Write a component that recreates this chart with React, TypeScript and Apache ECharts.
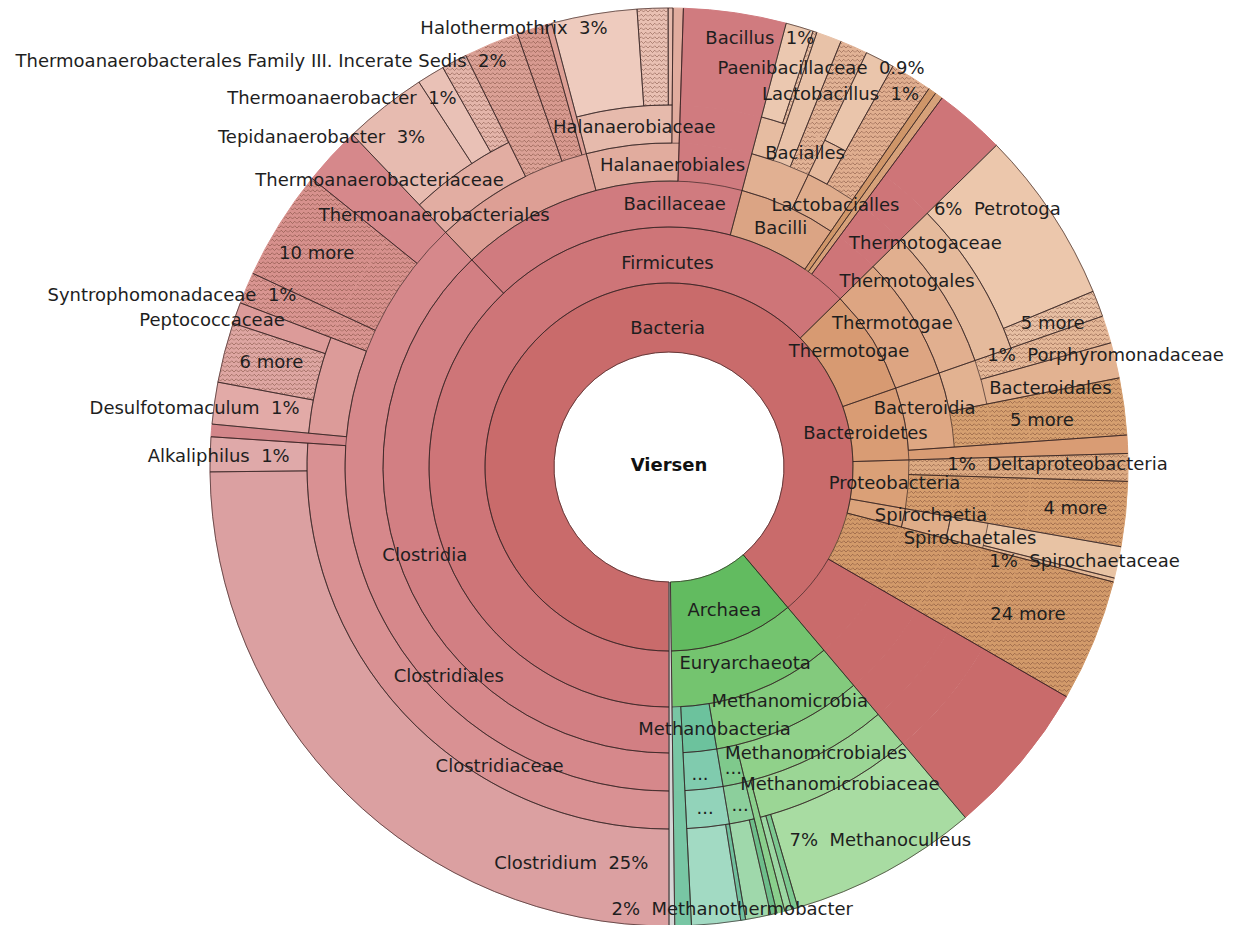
import { useEffect, useRef } from "react";
import * as echarts from "echarts";

type Row = [string, string, number]; // id, parent id, share of all reads (%)

const ROOT = "Viersen";
const TOTAL = 100;

const DOMAINS: Row[] = [
  ["Bacteria", ROOT, 88.83],
  ["Archaea", ROOT, 10.97],
];
const PHYLA: Row[] = [
  ["Firmicutes", "Bacteria", 62.64],
  ["Thermotogae", "Bacteria", 7.03],
  ["Bacteroidetes", "Bacteria", 4.86],
  ["Proteobacteria", "Bacteria", 3.25],
  ["Spirochaetes", "Bacteria", 1.25],
  ["24 more", "Bacteria", 4.31],
  ["Euryarchaeota", "Archaea", 10.97],
];
const CLASSES: Row[] = [
  ["Clostridia", "Firmicutes", 37.89],
  ["Bacillaceae#c", "Firmicutes", 16.22],
  ["Bacilli", "Firmicutes", 5.47],
  ["other#c1", "Firmicutes", 0.28],
  ["other#c2", "Firmicutes", 0.28],
  ["Thermotogae#c", "Thermotogae", 7.03],
  ["Bacteroidia", "Bacteroidetes", 4.22],
  ["Deltaproteobacteria", "Proteobacteria", 0.97],
  ["4 more", "Proteobacteria", 2.28],
  ["Spirochaetia", "Spirochaetes", 1.25],
  ["Methanomicrobia", "Euryarchaeota", 8.5],
  ["Methanobacteria", "Euryarchaeota", 1.89],
  ["other#c3", "Euryarchaeota", 0.58],
];
const ORDERS: Row[] = [
  ["Clostridiales", "Clostridia", 37.89],
  ["Thermoanaerobacteriales", "Bacillaceae#c", 8.0],
  ["Halanaerobiales", "Bacillaceae#c", 4.61],
  ["Bacialles", "Bacilli", 2.97],
  ["Lactobacialles", "Bacilli", 2.5],
  ["Thermotogales", "Thermotogae#c", 7.03],
  ["Bacteroidales", "Bacteroidia", 2.22],
  ["5 more#b", "Bacteroidia", 2.0],
  ["Spirochaetales", "Spirochaetia", 1.25],
  ["Methanomicrobiales", "Methanomicrobia", 7.39],
  ["...#1", "Methanomicrobia", 1.11],
  ["...#3", "Methanobacteria", 1.89],
];
const FAMILIES: Row[] = [
  ["Clostridiaceae", "Clostridiales", 26.05],
  ["other#f1", "Clostridiales", 0.44],
  ["Peptococcaceae", "Clostridiales", 4.33],
  ["Syntrophomonadaceae", "Clostridiales", 1.11],
  ["10 more", "Clostridiales", 3.89],
  ["Thermoanaerobacteriaceae", "Thermoanaerobacteriales", 4.81],
  ["Thermoanaerobacterales Family III. Incerate Sedis", "Thermoanaerobacteriales", 1.94],
  ["more#f2", "Thermoanaerobacteriales", 1.03],
  ["Halanaerobiaceae", "Halanaerobiales", 4.25],
  ["Bacillaceae#f", "Bacialles", 1.11],
  ["Paenibacillaceae", "Bacialles", 0.89],
  ["more#f3", "Bacialles", 0.97],
  ["Lactobacillaceae", "Lactobacialles", 1.03],
  ["more#f4", "Lactobacialles", 1.47],
  ["Thermotogaceae", "Thermotogales", 7.03],
  ["Porphyromonadaceae", "Bacteroidales", 0.97],
  ["Spirochaetaceae", "Spirochaetales", 1.11],
  ["Methanomicrobiaceae", "Methanomicrobiales", 7.11],
  ["other#f5", "Methanomicrobiales", 0.28],
  ["...#2", "...#1", 1.11],
  ["...#4", "...#3", 1.89],
];
const GENERA: Row[] = [
  ["Clostridium", "Clostridiaceae", 24.83],
  ["Alkaliphilus", "Clostridiaceae", 1.22],
  ["Desulfotomaculum", "Peptococcaceae", 1.47],
  ["6 more", "Peptococcaceae", 2.11],
  ["Tepidanaerobacter", "Thermoanaerobacteriaceae", 2.94],
  ["Thermoanaerobacter", "Thermoanaerobacteriaceae", 0.97],
  ["more#g1", "Thermoanaerobacteriaceae", 0.9],
  ["Halothermothrix", "Halanaerobiaceae", 3.0],
  ["more#g2", "Halanaerobiaceae", 1.08],
  ["Bacillus", "Bacillaceae#f", 0.97],
  ["more#g3", "Bacillaceae#f", 0.14],
  ["Lactobacillus", "Lactobacillaceae", 1.03],
  ["Petrotoga", "Thermotogaceae", 6.11],
  ["5 more#t", "Thermotogaceae", 0.92],
  ["Methanoculleus", "Methanomicrobiaceae", 6.64],
  ["other#g4", "Methanomicrobiaceae", 0.22],
  ["other#g5", "Methanomicrobiaceae", 0.25],
  ["other#g6", "...#2", 0.22],
  ["other#g7", "...#2", 0.89],
  ["other#g8", "...#4", 0.17],
  ["Methanothermobacter", "...#4", 1.72],
];

// ---- styles (kept apart from the data) ----
const COLORS: Record<string, string> = {
  Viersen: "#ffffff",
  Bacteria: "#c96b6b", Archaea: "#62bb60",
  Firmicutes: "#ce7578", Thermotogae: "#d79a72", Bacteroidetes: "#d99c74", Proteobacteria: "#daa077",
  Spirochaetes: "#dba37b", "24 more": "#d29a6a", Euryarchaeota: "#74c46f",
  Clostridia: "#d27f83", "Bacillaceae#c": "#d07b7f", Bacilli: "#dba484", "other#c1": "#cf9669", "other#c2": "#d6a179",
  "Thermotogae#c": "#dda582", Bacteroidia: "#dea783", Deltaproteobacteria: "#dcaa82", "4 more": "#d69e6e",
  Spirochaetia: "#dfad88", Methanomicrobia: "#83ca7d", Methanobacteria: "#6cc29d", "other#c3": "#78c6a4",
  Clostridiales: "#d6888b", Thermoanaerobacteriales: "#dd9f95", Halanaerobiales: "#e1ac9e", Bacialles: "#e1b092",
  Lactobacialles: "#dfac8c", Thermotogales: "#e1af8f", Bacteroidales: "#e2b291", "5 more#b": "#d6a070",
  Spirochaetales: "#e3b896", Methanomicrobiales: "#90d18a", "...#1": "#7fc98c", "...#3": "#80cbae",
  Clostridiaceae: "#d99193", "other#f1": "#d3868a", Peptococcaceae: "#dc9b99", Syntrophomonadaceae: "#d99591",
  "10 more": "#d7918d", Thermoanaerobacteriaceae: "#e2ada2",
  "Thermoanaerobacterales Family III. Incerate Sedis": "#dba196", "more#f2": "#d89a90",
  Halanaerobiaceae: "#e6baac", "Bacillaceae#f": "#e6bca1", Paenibacillaceae: "#e8c2a8", "more#f3": "#e2b396",
  Lactobacillaceae: "#e5b99d", "more#f4": "#e0ae8f", Thermotogaceae: "#e5ba9c", Porphyromonadaceae: "#e4b797",
  Spirochaetaceae: "#e8c3a4", Methanomicrobiaceae: "#9bd695", "other#f5": "#8acf8c", "...#2": "#8ccf9c",
  "...#4": "#92d3ba",
  Clostridium: "#dba0a1", Alkaliphilus: "#dfa9a9", Desulfotomaculum: "#e2aaa7", "6 more": "#dea6a2",
  Tepidanaerobacter: "#e7bbb0", Thermoanaerobacter: "#e9c1b6", "more#g1": "#e4b5aa", Halothermothrix: "#eecbbe",
  "more#g2": "#e9c0b3", Bacillus: "#ebc8b0", "more#g3": "#e6bda2", Lactobacillus: "#eac5ab", Petrotoga: "#ecc7ac",
  "5 more#t": "#e7bfa3", Methanoculleus: "#a8dca2", "other#g4": "#7cc890", "other#g5": "#9bd6a2",
  "other#g6": "#6dbd8a", "other#g7": "#9fd8ab", "other#g8": "#6fbf9d", Methanothermobacter: "#a2dac3",
};
const UNASSIGNED = "#d6d6d6";
const HATCHED = [
  "24 more", "4 more", "5 more#b", "5 more#t", "10 more", "6 more", "Syntrophomonadaceae",
  "Thermoanaerobacterales Family III. Incerate Sedis", "more#f2", "more#g1", "more#g2", "more#f3",
  "more#g3", "more#f4", "Porphyromonadaceae", "Deltaproteobacteria",
];

// label placement: at = ring depth carrying the text, p = percent after/before, o = nudge [x, y]
type Spec = { at?: number; p?: "a" | "b"; o?: [number, number]; bold?: boolean };
const LABELS: Record<string, Spec> = {
  Viersen: { o: [0, 55], bold: true },
  Bacteria: { o: [50, 1] },
  Archaea: { o: [3, 2] },
  Firmicutes: { o: [194, -123] },
  Thermotogae: { o: [0, -5] },
  Bacteroidetes: { o: [-12, 4] },
  Proteobacteria: { o: [14, 0] },
  "24 more": { at: 7, o: [-21, -9] },
  Euryarchaeota: { o: [2, -3] },
  Clostridia: { o: [0, -10] },
  "Bacillaceae#c": { o: [71, -9] },
  Bacilli: { o: [2, 0] },
  "Thermotogae#c": { o: [0, -6] },
  Bacteroidia: { o: [-2, -7] },
  Deltaproteobacteria: { at: 7, p: "b", o: [-22, -4] },
  "4 more": { at: 7, o: [-2, -2] },
  Spirochaetia: { o: [5, -8] },
  Methanomicrobia: { o: [10, -5] },
  Methanobacteria: { o: [17, 0] },
  Clostridiales: { o: [63, 95] },
  Thermoanaerobacteriales: { o: [-86, 14] },
  Halanaerobiales: { o: [38, 1] },
  Bacialles: { o: [31, -28] },
  Lactobacialles: { o: [14, 2] },
  Thermotogales: { o: [-21, -26] },
  Bacteroidales: { o: [87, 0] },
  "5 more#b": { at: 6, o: [33, -2] },
  Spirochaetales: { o: [3, 6] },
  Methanomicrobiales: { o: [9, 14] },
  "...#1": { o: [3, 2] },
  "...#3": { o: [-2, 3] },
  Clostridiaceae: { o: [81, 64] },
  Syntrophomonadaceae: { at: 7, p: "a", o: [-119, -12] },
  "10 more": { at: 7, o: [-4, 3] },
  Peptococcaceae: { o: [-123, -69] },
  Thermoanaerobacteriaceae: { o: [-93, -6] },
  "Thermoanaerobacterales Family III. Incerate Sedis": { at: 7, p: "a", o: [-249, -28] },
  Halanaerobiaceae: { o: [8, 0] },
  Paenibacillaceae: { at: 7, p: "a", o: [9, -15] },
  Thermotogaceae: { o: [-35, -44] },
  Porphyromonadaceae: { at: 7, p: "b", o: [45, 11] },
  Spirochaetaceae: { at: 7, p: "b", o: [14, 8] },
  Methanomicrobiaceae: { o: [13, 12] },
  "...#2": { o: [2, 2] },
  "...#4": { o: [-1, 0] },
  Clostridium: { p: "a", o: [191, 104] },
  Alkaliphilus: { p: "a", o: [-40, 0] },
  Desulfotomaculum: { p: "a", o: [-68, -2] },
  "6 more": { o: [0, -3] },
  Tepidanaerobacter: { p: "a", o: [-93, -8] },
  Thermoanaerobacter: { p: "a", o: [-114, -19] },
  Halothermothrix: { p: "a", o: [-88, -35] },
  Bacillus: { p: "a", o: [-26, -36] },
  Lactobacillus: { p: "a", o: [-17, -9] },
  Petrotoga: { p: "b", o: [-14, -32] },
  "5 more#t": { o: [0, 2] },
  Methanoculleus: { p: "b", o: [17, 11] },
  Methanothermobacter: { p: "b", o: [21, 33] },
};

const RINGS: [number, number][] = [
  [0, 115], [115, 184], [184, 240], [240, 286], [286, 324], [324, 362], [362, 459],
];
const MAX_DEPTH = 7;
const LINE = "rgba(48,30,30,0.82)";
const LINE_W = 0.8;
const FONT = 18;

const ALL_ROWS: Row[] = [...DOMAINS, ...PHYLA, ...CLASSES, ...ORDERS, ...FAMILIES, ...GENERA];

const display = (id: string) => id.split("#")[0];
const pctText = (v: number) => {
  const r1 = Math.round(v * 10) / 10;
  return r1 >= 1 ? `${Math.round(v)}%` : `${r1.toFixed(1)}%`;
};

const hatchCache: Record<string, any> = {};
function hatchFill(base: string) {
  if (hatchCache[base]) return hatchCache[base];
  const svg =
    `<svg xmlns="http://www.w3.org/2000/svg" width="9" height="9">` +
    `<rect width="9" height="9" fill="${base}"/>` +
    `<path d="M0 3 L2.25 0.75 L4.5 3 L6.75 0.75 L9 3 M0 7.5 L2.25 5.25 L4.5 7.5 L6.75 5.25 L9 7.5" ` +
    `fill="none" stroke="rgba(100,55,40,0.55)" stroke-width="0.8"/></svg>`;
  const pat = {
    image: "data:image/svg+xml;charset=utf-8," + encodeURIComponent(svg),
    repeat: "repeat",
    imageWidth: 9,
    imageHeight: 9,
  };
  hatchCache[base] = pat;
  return pat;
}

function labelOpt(id: string, value: number) {
  const s = LABELS[id];
  const name = display(id);
  let text = s.p === "a" ? `${name}  ${pctText(value)}` : s.p === "b" ? `${pctText(value)}  ${name}` : name;
  const [ox, oy] = s.o ?? [0, 0];
  const opt: any = {
    show: true,
    rotate: 0,
    padding: [0, Math.max(0, -2 * ox), 0, Math.max(0, 2 * ox)],
  };
  // vertical nudge: a blank companion line, the block stays centred on the anchor
  if (Math.abs(oy) >= 1) {
    text = oy < 0 ? `${text}\n` : `\n${text}`;
    opt.lineHeight = 2 * Math.abs(oy);
  }
  opt.formatter = text;
  if (s.bold) Object.assign(opt, { fontWeight: "bold", fontSize: 18, color: "#111" });
  return opt;
}

// only the radial edges of a piece: outer arc, edge, inner arc, edge (zrender sector path order)
function radialDash(value: number, depth: number): number[] {
  const [r0, r] = RINGS[depth - 1];
  const a = (value / TOTAL) * Math.PI * 2;
  const h = r - r0;
  return [0, r * a, h, r0 * a, h, 0];
}

type Mode = "fill" | "line";
type Kind = "root" | "solid" | "chain";

function piece(mode: Mode, kind: Kind, id: string, value: number, depth: number, color: string, hatched: boolean, labelled: boolean) {
  const item: any = { name: display(id), value };
  if (mode === "fill") {
    item.itemStyle = { color: hatched ? hatchFill(color) : color, borderColor: color, borderWidth: 1 };
    item.label = { show: false };
  } else {
    const itemStyle: any = { color: "rgba(0,0,0,0)", borderColor: LINE, borderWidth: kind === "root" ? 0 : LINE_W };
    if (kind === "chain") itemStyle.borderType = radialDash(value, depth);
    item.itemStyle = itemStyle;
    item.label = labelled ? labelOpt(id, value) : { show: false };
  }
  return item;
}

// a region that reaches out to the rim, drawn as one area without inner ring arcs
function region(mode: Mode, id: string, value: number, start: number, color: string, hatched: boolean, labelDepth: number): any {
  const multi = start < MAX_DEPTH;
  const make = (d: number): any => {
    const p: any = piece(mode, multi ? "chain" : "solid", id, value, d, color, hatched, d === labelDepth);
    if (d < MAX_DEPTH) p.children = [make(d + 1)];
    return p;
  };
  return make(start);
}

function build(mode: Mode, id: string, value: number, depth: number, parentColor: string): any {
  const color = COLORS[id] ?? parentColor;
  const hatched = HATCHED.includes(id);
  const kids = ALL_ROWS.filter((r) => r[1] === id);
  const spec = LABELS[id];
  const labelDepth = spec ? spec.at ?? depth : -1;
  if (kids.length === 0) return region(mode, id, value, depth, color, hatched, labelDepth);
  const children = kids.map((k) => build(mode, k[0], k[2], depth + 1, color));
  const rem = value - kids.reduce((s, k) => s + k[2], 0);
  if (rem > 0.005) {
    children.push(region(mode, id + "#ext", rem, depth + 1, id === ROOT ? UNASSIGNED : color, false, -1));
  }
  const node: any = piece(mode, id === ROOT ? "root" : "solid", id, value, depth, color, hatched, depth === labelDepth);
  node.children = children;
  return node;
}

export default function App() {
  const ref = useRef<HTMLDivElement>(null);
  useEffect(() => {
    if (!ref.current) return;
    const chart = echarts.init(ref.current, undefined, { renderer: "svg" });
    const levels: any[] = [{}].concat(RINGS.map(([r0, r]) => ({ r0, r })) as any[]);
    const common = {
      type: "sunburst",
      center: [669, 467],
      radius: [0, 459],
      startAngle: -90,
      clockwise: true,
      sort: null,
      nodeClick: false,
      emphasis: { disabled: true },
      levels,
      label: {
        show: false,
        rotate: 0,
        fontFamily: "DejaVu Sans",
        fontSize: FONT,
        color: "#1e1e1e",
      },
    };
    chart.setOption({
      animation: false,
      backgroundColor: "#ffffff",
      series: [
        { ...common, name: "areas", silent: true, data: [build("fill", ROOT, TOTAL, 1, "#ffffff")] },
        { ...common, name: "outlines", data: [build("line", ROOT, TOTAL, 1, "#ffffff")] },
      ],
    });
    return () => chart.dispose();
  }, []);
  return (
    <div
      ref={ref}
      style={{ position: "fixed", left: 0, top: 0, width: 1238, height: 925, background: "#fff" }}
    />
  );
}
